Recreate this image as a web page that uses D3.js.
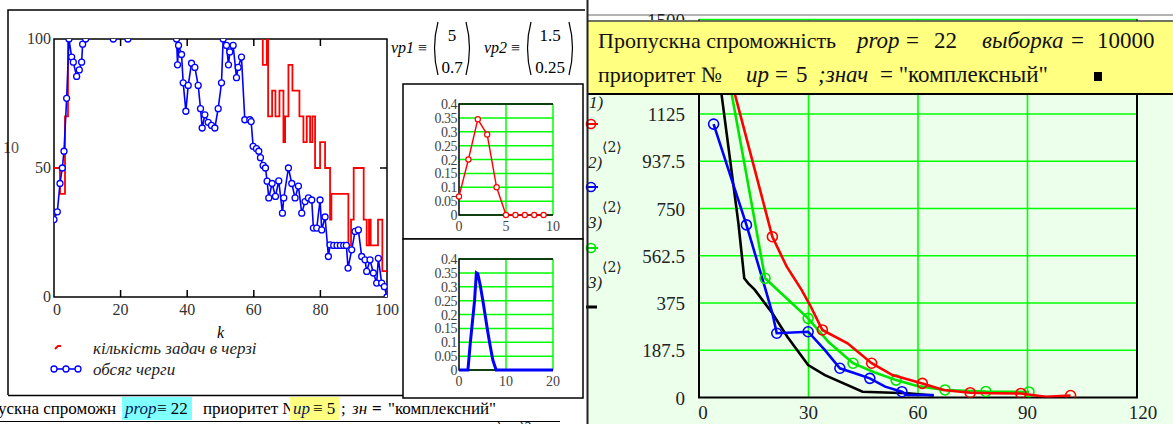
<!DOCTYPE html>
<html>
<head>
<meta charset="utf-8">
<script src="https://cdn.jsdelivr.net/npm/d3@7"></script>
<style>
body { margin: 0; background: #fff; }
svg { display: block; font-family: "Liberation Serif", "Times New Roman", serif; }
</style>
</head>
<body>
<div id="chart"></div>
<script>
// ---- left plot: queue over k ----
var kTicks = [0, 20, 40, 60, 80, 100];
var qTicks = [0, 50, 100];
// blue trace (queue volume)
var queueK = [0,1,1.8,2.5,3,3.8,4.5,5.3,5.8,6.8,7.6,8.3,8.6,9.5,10.5,12,14,16,17.8,19.5,21,22.2,23.5,26,29,32,35,36.8,37.1,37.4,38.3,38.8,39.6,40.3,41.3,42.3,43.3,44,44.5,45.3,46.3,47.3,48.3,49.3,50.3,50.8,51.8,52.4,52.8,53.8,54.8,55.3,56.3,57.3,58.8,59.2,59.8,60.8,61.5,62,62.8,63.5,64,64.5,65.5,66.5,67.5,68.6,69,70.4,71.4,72.4,73.4,74.4,75.4,76.4,77.4,77.9,78.9,79.9,80.4,81.4,82.4,82.9,84,85,86,87,87.8,88.3,89.4,90.4,91.4,92.4,93.4,93.9,94.9,95.9,96.9,97.4,98.4,99.2,100];
var queueLen = [30,33,44,50,56.5,77,100,93,91,85.5,88,91,98,100,112,125,118,108,100,110,106,100,110,125,130,122,110,100,90,97.5,94,83,72,82,90.6,89,82,73,65.5,70.6,67.7,66.5,65.5,73,83,100,97.5,90,95,97.5,85,89,93,68.7,68.7,68,58.4,57.5,56.5,54,51,50,44.9,38.4,44,39,45,32.5,38.4,50,44,38.4,43,32.5,37,38.4,37.6,26.7,26.7,37.6,26,31,15.7,20.2,20,20,20,20,20,11.2,18.3,25.4,26,15.7,14.4,9.9,14.4,9.3,5.4,15,5.4,4,0];
// red step trace (tasks in queue)
var taskK = [0,1.8,3.3,4.2,62.7,63.9,64.3,65.5,66.5,67.7,68.9,69.4,70.4,71.6,73.7,74.9,75.9,76.9,77.6,78.4,79.9,81.4,82.9,83.3,88.4,89.2,90,93,93.9,94.6,95.1,97.3,98.6,100];
var taskN = [50,40,70,150,90,150,70,80,70,80,60,70,90,80,70,60,70,60,70,50,60,50,30,40,20,30,50,30,20,30,20,30,10,10];

// ---- small plots ----
var pTicks = [0, 0.05, 0.1, 0.15, 0.2, 0.25, 0.3, 0.35, 0.4];
var arrX = [0,1,2,3,4,5,6,7,8,9];
var arrP = [0.067,0.2,0.345,0.29,0.1,0,0,0,0,0];
var servX = [0,1.9,2.4,3.3,3.7,4,4.5,5.1,5.6,6.1,6.6,7.2,7.9,20];
var servP = [0,0,0.097,0.248,0.35,0.347,0.307,0.248,0.194,0.14,0.09,0.036,0,0];

// ---- right plot ----
var rxTicks = [0, 30, 60, 90, 120];
var ryTicks = [0, 187.5, 375, 562.5, 750, 937.5, 1125, 1312.5, 1500];
var redX = [6.4,9.9,20.1,24,28.1,30.4,33.8,40.7,47.3,53,61.2,67,74.3,80,88.2,95,101.8];
var redY = [1393,1200,638,520,427,367,268,215,136,89,56,30,19,17,16,3,8];
var redDotX = [6.4,20.1,33.8,47.3,61.2,74.3,88.2,101.8];
var redDotY = [1393,638,268,136,56,19,16,8];
var blueX = [4,13,18,20.1,21.3,29.9,34.5,38.6,42.7,46.8,51,55.6,57,64.3];
var blueY = [1085,685,440,334,255,261,188,116,96,76,43,23,10,10];
var blueDotX = [4,13,21.3,29.9,38.6,46.8,55.6];
var blueDotY = [1085,685,255,261,116,76,23];
var greenX = [6,9,12.6,18.1,29.9,35.5,42.2,48,54,60,67.4,78.6,90.4];
var greenY = [1437,1200,916,473,314,220,136,100,69,45,30,24,22];
var greenDotX = [6,18.1,29.9,42.2,54,67.4,78.6,90.4];
var greenDotY = [1437,473,314,136,69,30,24,22];
var blackX = [4.5,6.2,10.8,12.4,13.5,15.3,20.1,24.2,29.9,34.5,44.8,57.1,64.3];
var blackY = [1390,1200,691,473,453,427,334,241,129,89,23,17,8];

var W = 1173, H = 424;
var svg = d3.select("#chart").append("svg")
    .attr("width", W)
    .attr("height", H);

function zip(a, b) { return a.map(function(d, i) { return [d, b[i]]; }); }

// ================= LEFT PLOT =================
var xL = d3.scaleLinear().domain([0, 100]).range([54, 387]);
var yL = d3.scaleLinear().domain([0, 100]).range([297, 39]);

svg.append("clipPath").attr("id", "clipL")
  .append("rect").attr("x", 54).attr("y", 39).attr("width", 333).attr("height", 258);

var left = svg.append("g");

// ticks inside the box
kTicks.slice(1, -1).forEach(function(t) {
  left.append("line").attr("x1", xL(t)).attr("x2", xL(t)).attr("y1", yL(0)).attr("y2", yL(0) - 7)
    .attr("stroke", "#000").attr("stroke-width", 1.5);
  left.append("line").attr("x1", xL(t)).attr("x2", xL(t)).attr("y1", yL(100)).attr("y2", yL(100) + 7)
    .attr("stroke", "#000").attr("stroke-width", 1.5);
});
left.append("line").attr("x1", xL(0)).attr("x2", xL(0) + 7).attr("y1", yL(50)).attr("y2", yL(50))
  .attr("stroke", "#000").attr("stroke-width", 1.5);
left.append("line").attr("x1", xL(100)).attr("x2", xL(100) - 7).attr("y1", yL(50)).attr("y2", yL(50))
  .attr("stroke", "#000").attr("stroke-width", 1.5);

left.append("rect")
  .attr("x", xL(0)).attr("y", yL(100))
  .attr("width", xL(100) - xL(0)).attr("height", yL(0) - yL(100))
  .attr("fill", "none").attr("stroke", "#000").attr("stroke-width", 1.5);

left.selectAll(".xl").data(kTicks).enter().append("text")
  .attr("x", function(d) { return xL(d) + (d === 0 ? 3 : 0); }).attr("y", 315)
  .attr("text-anchor", "middle").attr("font-size", 16).attr("fill", "#333")
  .text(function(d) { return d; });
left.selectAll(".yl").data(qTicks).enter().append("text")
  .attr("x", 51).attr("y", function(d) { return yL(d) + 5; })
  .attr("text-anchor", "end").attr("font-size", 16).attr("fill", "#333")
  .text(function(d) { return d; });
left.append("text").attr("x", 3).attr("y", 153).attr("font-size", 16).attr("fill", "#555").text("10");
left.append("text").attr("x", 217).attr("y", 338).attr("font-size", 16).attr("font-style", "italic").text("k");

var plotL = left.append("g").attr("clip-path", "url(#clipL)");

var stepLine = d3.line()
  .x(function(d) { return xL(d[0]); })
  .y(function(d) { return yL(d[1]); })
  .curve(d3.curveStepAfter);
plotL.append("path").datum(zip(taskK, taskN))
  .attr("d", stepLine).attr("fill", "none").attr("stroke", "#ff0000").attr("stroke-width", 1.8);

var qLine = d3.line()
  .x(function(d) { return xL(d[0]); })
  .y(function(d) { return yL(d[1]); });
plotL.append("path").datum(zip(queueK, queueLen))
  .attr("d", qLine).attr("fill", "none").attr("stroke", "#0000ff").attr("stroke-width", 1.6);
plotL.selectAll(".qd").data(zip(queueK, queueLen)).enter().append("circle")
  .attr("cx", function(d) { return xL(d[0]); })
  .attr("cy", function(d) { return yL(d[1]); })
  .attr("r", 3).attr("fill", "#fff").attr("stroke", "#0000ff").attr("stroke-width", 1.3);

// legend
left.append("path").attr("d", "M55,349 L58,346 L61,346").attr("fill", "none")
  .attr("stroke", "#ff0000").attr("stroke-width", 2);
left.append("text").attr("x", 93).attr("y", 354).attr("font-size", 17).attr("font-style", "italic")
  .attr("fill", "#222").text("кількість задач в черзі");
left.append("line").attr("x1", 51).attr("x2", 81).attr("y1", 369).attr("y2", 369)
  .attr("stroke", "#0000ff").attr("stroke-width", 1.6);
[54, 66, 78].forEach(function(cx) {
  left.append("circle").attr("cx", cx).attr("cy", 369).attr("r", 3)
    .attr("fill", "#fff").attr("stroke", "#0000ff").attr("stroke-width", 1.3);
});
left.append("text").attr("x", 93).attr("y", 375).attr("font-size", 17).attr("font-style", "italic")
  .attr("fill", "#222").text("обсяг черги");

// region frame
left.append("path").attr("d", "M8,395 L8,10 L585,10")
  .attr("fill", "none").attr("stroke", "#000").attr("stroke-width", 1.5);
left.append("line").attr("x1", 8).attr("x2", 572).attr("y1", 395.5).attr("y2", 395.5)
  .attr("stroke", "#000").attr("stroke-width", 1.5);

// vp1 / vp2 vectors
function matrix(g, x0, label, top, bot, w) {
  g.append("text").attr("x", x0).attr("y", 53).attr("font-size", 16).attr("font-style", "italic").text(label);
  g.append("text").attr("x", x0 + 27).attr("y", 53).attr("font-size", 16).text("≡");
  var px = x0 + 42;
  g.append("path").attr("d", "M" + (px + 5) + ",22 Q" + (px - 2) + ",48 " + (px + 5) + ",75")
    .attr("fill", "none").attr("stroke", "#000").attr("stroke-width", 1.2);
  g.append("path").attr("d", "M" + (px + w - 5) + ",22 Q" + (px + w + 2) + ",48 " + (px + w - 5) + ",75")
    .attr("fill", "none").attr("stroke", "#000").attr("stroke-width", 1.2);
  g.append("text").attr("x", px + w / 2).attr("y", 41).attr("text-anchor", "middle").attr("font-size", 17).text(top);
  g.append("text").attr("x", px + w / 2).attr("y", 73).attr("text-anchor", "middle").attr("font-size", 17).text(bot);
}
matrix(svg, 391, "vp1", "5", "0.7", 38);
matrix(svg, 484, "vp2", "1.5", "0.25", 48);

// ================= SMALL PLOTS =================
function smallPlot(y0, y1, xMax, xTickVals, data, color, dots) {
  var g = svg.append("g");
  g.append("rect").attr("x", 403).attr("y", y0).attr("width", 180).attr("height", y1 - y0)
    .attr("fill", "#fff").attr("stroke", "#000").attr("stroke-width", 1.5);
  var top = y0 + 20, bottom = y0 + 131;
  var x = d3.scaleLinear().domain([0, xMax]).range([459, 553]);
  var y = d3.scaleLinear().domain([0, 0.4]).range([bottom, top]);
  pTicks.forEach(function(t) {
    g.append("line").attr("x1", x(0)).attr("x2", x(xMax)).attr("y1", y(t)).attr("y2", y(t))
      .attr("stroke", "#00ff00").attr("stroke-width", 1.5);
  });
  xTickVals.slice(1).forEach(function(t) {
    g.append("line").attr("x1", x(t)).attr("x2", x(t)).attr("y1", y(0)).attr("y2", y(0.4))
      .attr("stroke", "#00ff00").attr("stroke-width", 1.5);
  });
  g.append("path").attr("d", "M" + x(xMax) + "," + y(0.4) + " L" + x(0) + "," + y(0.4) + " L" + x(0) + "," + y(0) + " L" + x(xMax) + "," + y(0))
    .attr("fill", "none").attr("stroke", "#000").attr("stroke-width", 1.5);
  g.selectAll(".py").data(pTicks).enter().append("text")
    .attr("x", 457).attr("y", function(d) { return y(d) + 5; })
    .attr("text-anchor", "end").attr("font-size", 14).attr("fill", "#444")
    .attr("letter-spacing", -0.5)
    .text(function(d) { return d; });
  g.selectAll(".px").data(xTickVals).enter().append("text")
    .attr("x", function(d) { return x(d); }).attr("y", bottom + 16)
    .attr("text-anchor", "middle").attr("font-size", 14).attr("fill", "#444")
    .text(function(d) { return d; });
  var line = d3.line().x(function(d) { return x(d[0]); }).y(function(d) { return y(d[1]); });
  g.append("path").datum(data).attr("d", line).attr("fill", "none")
    .attr("stroke", color).attr("stroke-width", dots ? 1.4 : 3);
  if (dots) {
    g.selectAll(".pd").data(data).enter().append("circle")
      .attr("cx", function(d) { return x(d[0]); }).attr("cy", function(d) { return y(d[1]); })
      .attr("r", 2.6).attr("fill", "#fff").attr("stroke", color).attr("stroke-width", 1.2);
  }
}
smallPlot(84, 239, 10, [0, 5, 10], zip(arrX, arrP), "#ff0000", true);
smallPlot(239, 398, 20, [0, 10, 20], zip(servX, servP), "#0000ff", false);

// ================= BOTTOM STRIP =================
svg.append("clipPath").attr("id", "clipPrio")
  .append("rect").attr("x", 200).attr("y", 396).attr("width", 90).attr("height", 26);
var strip = svg.append("g").attr("font-size", 17);
strip.append("text").attr("x", -2).attr("y", 414).text("ускна спроможн");
strip.append("text").attr("x", 203).attr("y", 414).attr("clip-path", "url(#clipPrio)").text("приоритет №");
strip.append("rect").attr("x", 122).attr("y", 397).attr("width", 70).attr("height", 23).attr("fill", "#80ffff");
strip.append("text").attr("x", 125).attr("y", 414).attr("font-style", "italic").attr("fill", "#002060").text("prop");
strip.append("text").attr("x", 157).attr("y", 414).text("≡ 22");
strip.append("rect").attr("x", 290).attr("y", 397).attr("width", 49).attr("height", 23).attr("fill", "#ffff80");
strip.append("text").attr("x", 293).attr("y", 414).attr("font-style", "italic").attr("fill", "#002060").text("up");
strip.append("text").attr("x", 313).attr("y", 414).text("≡ 5");
strip.append("text").attr("x", 341).attr("y", 414).text("; ");
strip.append("text").attr("x", 352).attr("y", 414).attr("font-style", "italic").text("зн");
strip.append("text").attr("x", 372).attr("y", 414).attr("font-weight", "bold").text("=");
strip.append("text").attr("x", 388).attr("y", 414).text("\"комплексний\"");
strip.append("text").attr("x", 478).attr("y", 432).attr("font-size", 14).attr("font-style", "italic").text("модмод2");
strip.append("line").attr("x1", 0).attr("x2", 560).attr("y1", 421.5).attr("y2", 421.5)
  .attr("stroke", "#000").attr("stroke-width", 1.2);

// ================= RIGHT PLOT =================
var right = svg.append("g");
right.append("rect").attr("x", 588).attr("y", 0).attr("width", W - 588).attr("height", H).attr("fill", "#ebffeb");
right.append("rect").attr("x", 588).attr("y", 0).attr("width", W - 588).attr("height", 20).attr("fill", "#fff");
right.append("line").attr("x1", 588).attr("x2", W).attr("y1", 15).attr("y2", 15).attr("stroke", "#666").attr("stroke-width", 1);

var xR = d3.scaleLinear().domain([0, 120]).range([699, 1137]);
var yR = d3.scaleLinear().domain([0, 1500]).range([397.5, 19.5]);

right.selectAll(".gh").data(ryTicks.slice(1)).enter().append("line")
  .attr("x1", xR(0)).attr("x2", xR(120))
  .attr("y1", function(d) { return yR(d); }).attr("y2", function(d) { return yR(d); })
  .attr("stroke", "#00ff00").attr("stroke-width", 1.6);
right.selectAll(".gv").data(rxTicks.slice(1, -1)).enter().append("line")
  .attr("x1", function(d) { return xR(d); }).attr("x2", function(d) { return xR(d); })
  .attr("y1", yR(0)).attr("y2", yR(1500))
  .attr("stroke", "#00ff00").attr("stroke-width", 1.6);
right.append("path")
  .attr("d", "M" + xR(0) + "," + yR(1500) + " L" + xR(0) + "," + yR(0) + " L" + xR(120) + "," + yR(0) + " L" + xR(120) + "," + yR(1500))
  .attr("fill", "none").attr("stroke", "#000").attr("stroke-width", 2);

right.selectAll(".rx").data(rxTicks).enter().append("text")
  .attr("x", function(d) { return xR(d) + (d === 0 ? 4 : d === 120 ? 6 : 0); }).attr("y", 419)
  .attr("text-anchor", "middle").attr("font-size", 19).attr("fill", "#222")
  .text(function(d) { return d; });
// labels under the header box are clipped off, as in the screenshot
svg.append("clipPath").attr("id", "clipTop")
  .append("rect").attr("x", 600).attr("y", 0).attr("width", 90).attr("height", 20);
right.selectAll(".ry").data(ryTicks.filter(function(d) { return d !== 1312.5; })).enter().append("text")
  .attr("x", 685).attr("y", function(d) { return yR(d) + 7; })
  .attr("text-anchor", "end").attr("font-size", 19).attr("fill", "#222")
  .attr("clip-path", function(d) { return d === 1500 ? "url(#clipTop)" : null; })
  .text(function(d) { return d; });

svg.append("clipPath").attr("id", "clipR")
  .append("rect").attr("x", 699).attr("y", 19.5).attr("width", 438).attr("height", 378);
var plotR = right.append("g").attr("clip-path", "url(#clipR)");
var rLine = d3.line().x(function(d) { return xR(d[0]); }).y(function(d) { return yR(d[1]); });

function series(xs, ys, dx, dy, color) {
  plotR.append("path").datum(zip(xs, ys)).attr("d", rLine)
    .attr("fill", "none").attr("stroke", color).attr("stroke-width", 2.6);
  if (dx) {
    plotR.selectAll(null).data(zip(dx, dy)).enter().append("circle")
      .attr("cx", function(d) { return xR(d[0]); }).attr("cy", function(d) { return yR(d[1]); })
      .attr("r", 5).attr("fill", "none").attr("stroke", color).attr("stroke-width", 1.6);
  }
}
series(blackX, blackY, null, null, "#000");
series(blueX, blueY, blueDotX, blueDotY, "#0000ff");
series(greenX, greenY, greenDotX, greenDotY, "#00e600");
series(redX, redY, redDotX, redDotY, "#ff0000");

// trace labels on the left edge
var tl = right.append("g").attr("font-size", 17).attr("font-style", "italic").attr("fill", "#222");
tl.append("text").attr("x", 589).attr("y", 108).text("1)");
tl.append("text").attr("x", 588).attr("y", 168).text("2)");
tl.append("text").attr("x", 602).attr("y", 152).attr("font-style", "normal").attr("font-family", "DejaVu Serif").attr("font-size", 14).text("⟨2⟩");
tl.append("text").attr("x", 588).attr("y", 228).text("3)");
tl.append("text").attr("x", 602).attr("y", 212).attr("font-style", "normal").attr("font-family", "DejaVu Serif").attr("font-size", 14).text("⟨2⟩");
tl.append("text").attr("x", 588).attr("y", 288).text("3)");
tl.append("text").attr("x", 602).attr("y", 272).attr("font-style", "normal").attr("font-family", "DejaVu Serif").attr("font-size", 14).text("⟨2⟩");
[[124, "#ff0000"], [187, "#0000ff"], [248, "#00e600"]].forEach(function(m) {
  right.append("circle").attr("cx", 591).attr("cy", m[0]).attr("r", 4.5)
    .attr("fill", "none").attr("stroke", m[1]).attr("stroke-width", 1.6);
  right.append("line").attr("x1", 586).attr("x2", 598).attr("y1", m[0]).attr("y2", m[0])
    .attr("stroke", m[1]).attr("stroke-width", 2);
});
right.append("line").attr("x1", 586).attr("x2", 597).attr("y1", 307).attr("y2", 307)
  .attr("stroke", "#000").attr("stroke-width", 3);

// yellow header box
var hdr = right.append("g");
hdr.append("rect").attr("x", 588).attr("y", 21).attr("width", W - 588).attr("height", 73)
  .attr("fill", "#ffff80");
hdr.append("line").attr("x1", 588).attr("x2", W).attr("y1", 21).attr("y2", 21).attr("stroke", "#444").attr("stroke-width", 1.5);
hdr.append("line").attr("x1", 588).attr("x2", W).attr("y1", 94).attr("y2", 94).attr("stroke", "#000").attr("stroke-width", 2);
function ht(x, y, s, it, fs) {
  hdr.append("text").attr("x", x).attr("y", y).attr("font-size", fs || 22)
    .attr("font-style", it ? "italic" : "normal").attr("fill", "#111").text(s);
}
ht(598, 48, "Пропускна спроможність");
ht(857, 48, "prop", true, 23);
ht(906, 48, "=", false, 23);
ht(934, 48, "22", false, 23);
ht(982, 48, "выборка", true, 23);
ht(1071, 48, "=", false, 23);
ht(1097, 48, "10000", false, 23);
ht(598, 82, "приоритет №");
ht(746, 82, "up", true, 23);
ht(775, 82, "=", false, 23);
ht(796, 82, "5", false, 23);
ht(818, 82, ";знач", true, 23);
ht(880, 82, "= \"комплексный\"", false, 23);
hdr.append("rect").attr("x", 1094).attr("y", 72).attr("width", 8).attr("height", 9).attr("fill", "#000");

// panel divider
svg.append("line").attr("x1", 587.5).attr("x2", 587.5).attr("y1", 0).attr("y2", H)
  .attr("stroke", "#222").attr("stroke-width", 2);
</script>
</body>
</html>
